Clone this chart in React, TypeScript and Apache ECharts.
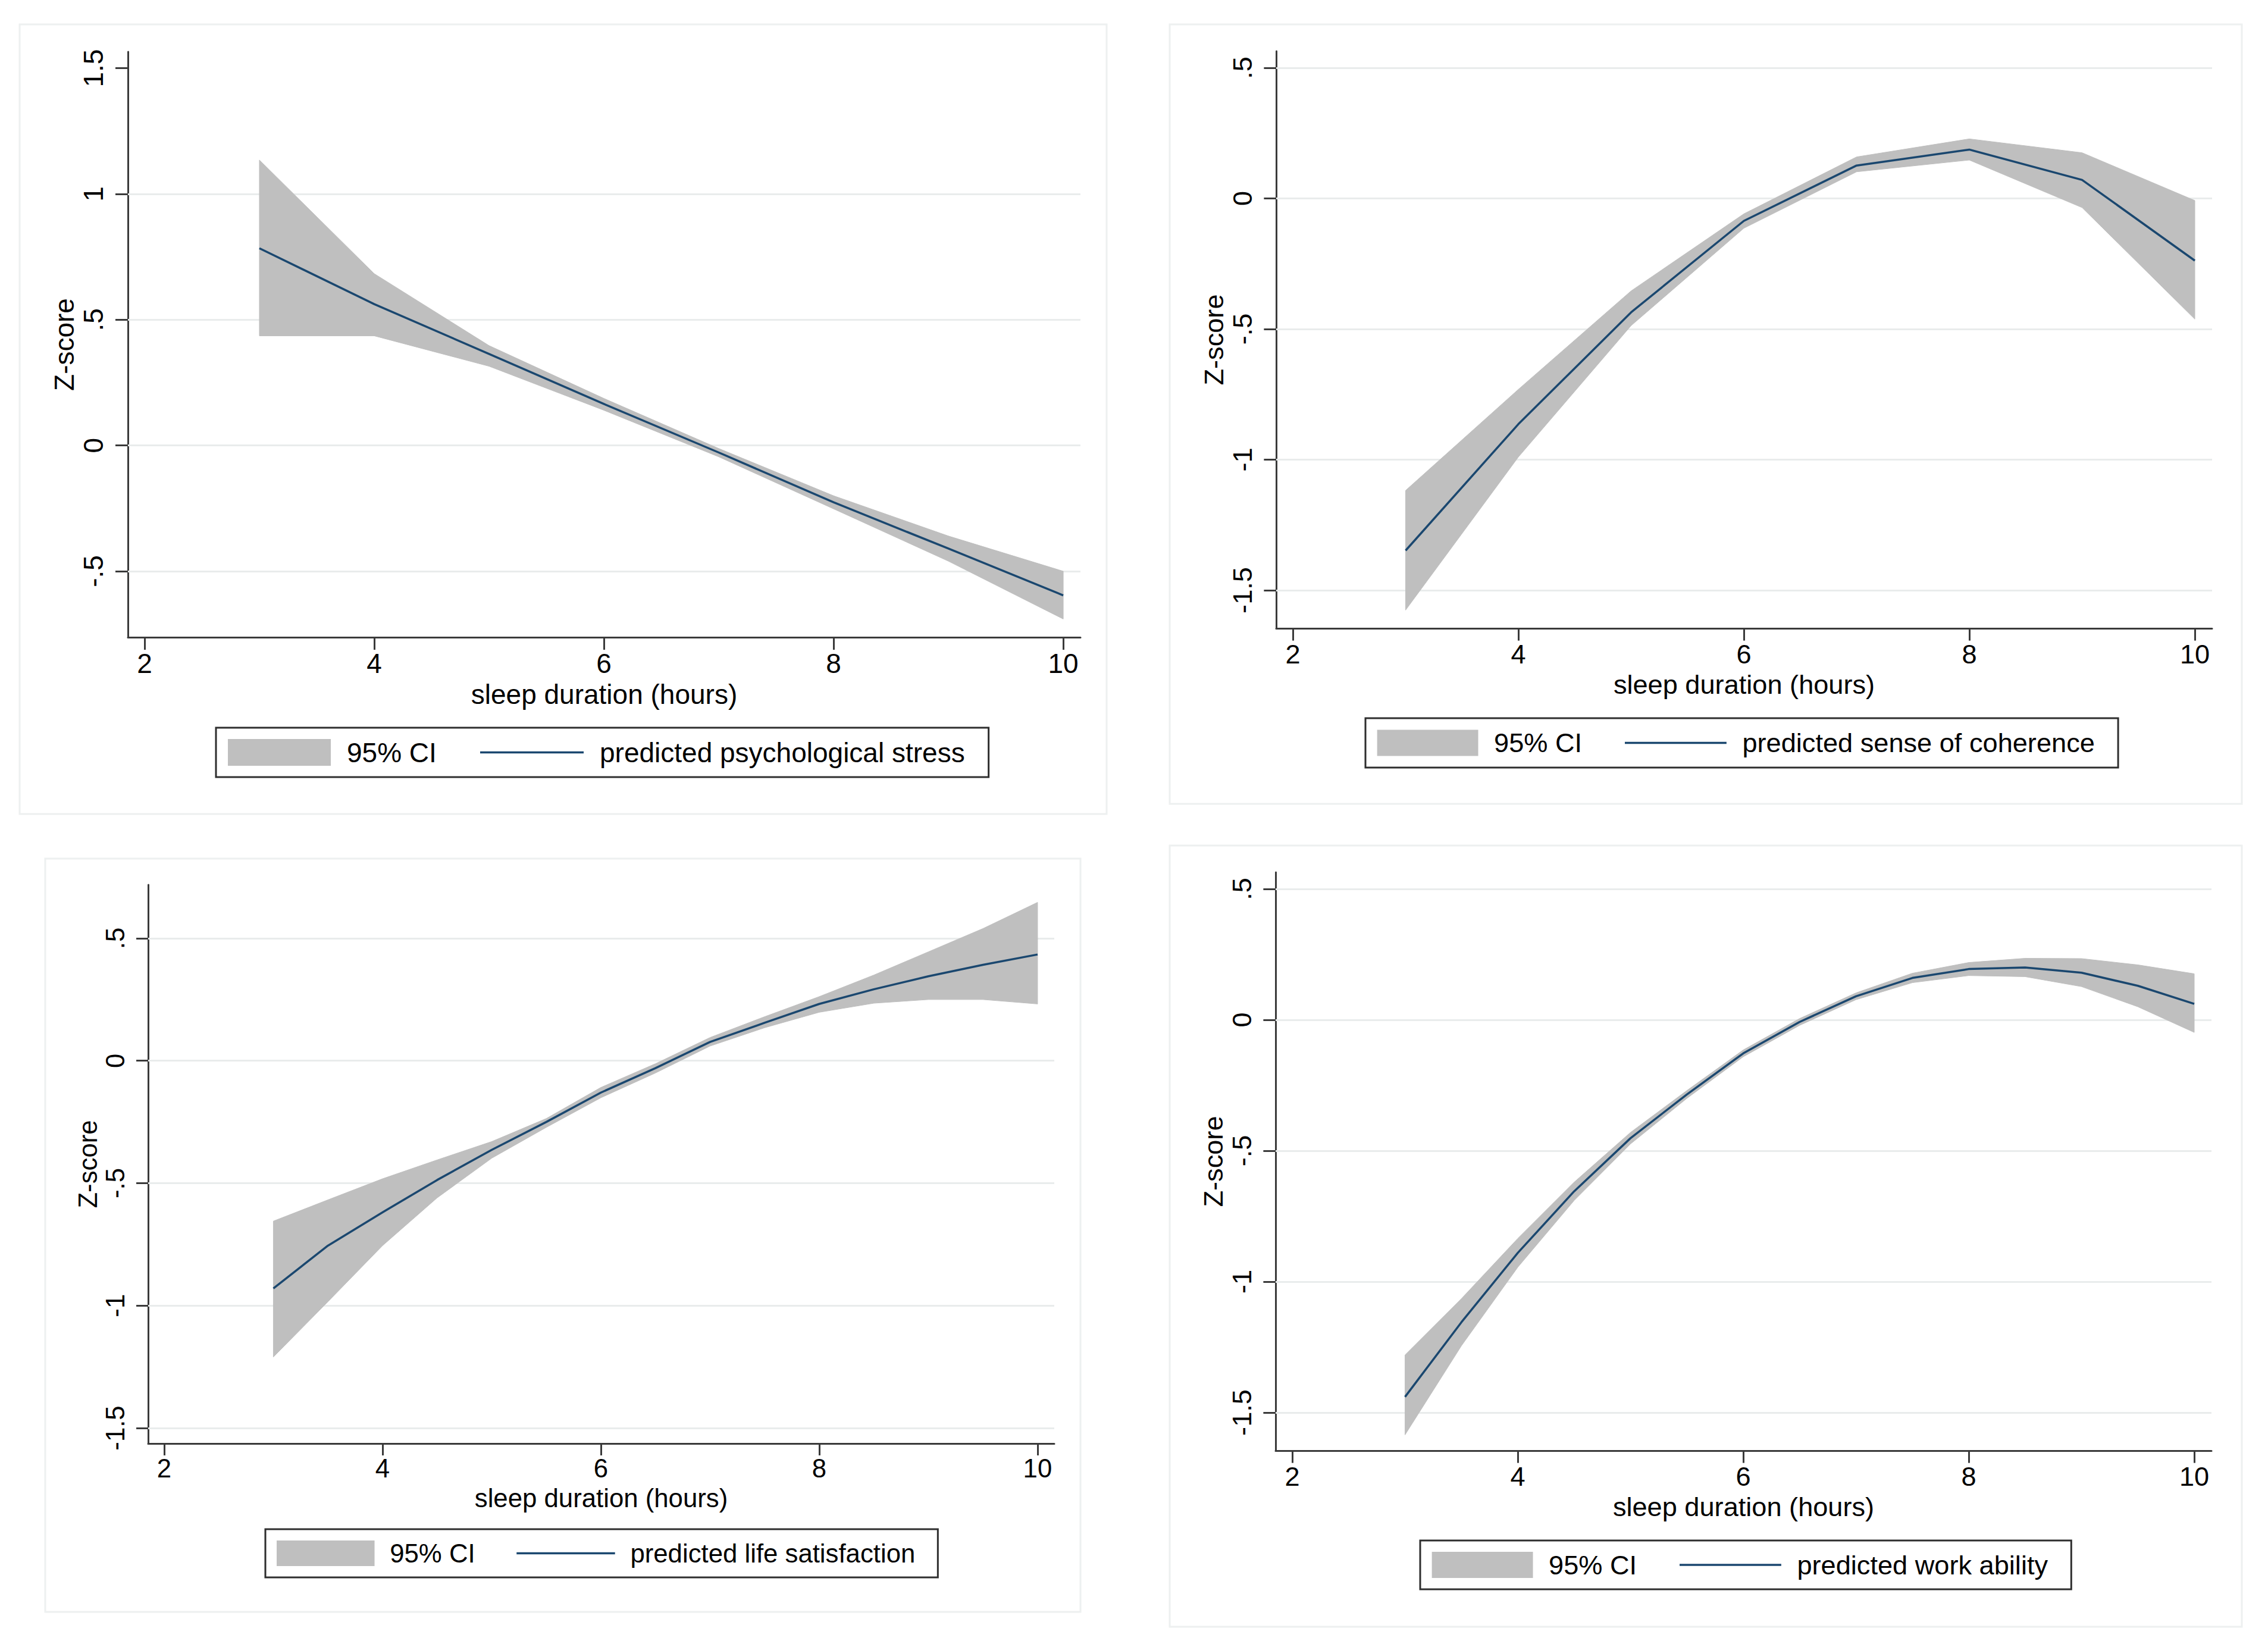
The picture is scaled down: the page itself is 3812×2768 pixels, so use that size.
import React, { useEffect, useRef } from "react";
import * as echarts from "echarts";

// ---------- data ----------
const xTicks = [2, 4, 6, 8, 10];

// psychological stress
const xsStress = [3, 4, 5, 6, 7, 8, 9, 10];
const fitStress = [0.784, 0.562, 0.364, 0.165, -0.028, -0.226, -0.41, -0.596];
const hiStress = [1.135, 0.683, 0.397, 0.187, -0.012, -0.2, -0.36, -0.5];
const loStress = [0.436, 0.436, 0.315, 0.14, -0.045, -0.252, -0.46, -0.69];
const yTicksStress = [-0.5, 0, 0.5, 1, 1.5];
const gridStress = [-0.5, 0, 0.5, 1];

// sense of coherence
const xsCoh = [3, 4, 5, 6, 7, 8, 9, 10];
const fitCoh = [-1.348, -0.864, -0.436, -0.086, 0.126, 0.187, 0.071, -0.238];
const hiCoh = [-1.118, -0.731, -0.354, -0.059, 0.159, 0.228, 0.175, -0.008];
const loCoh = [-1.576, -0.99, -0.487, -0.114, 0.102, 0.147, -0.035, -0.462];
const yTicksCoh = [-1.5, -1, -0.5, 0, 0.5];
const gridCoh = [-1.5, -1, -0.5, 0, 0.5];

// life satisfaction
const xsLife = [3, 3.5, 4, 4.5, 5, 5.5, 6, 6.5, 7, 7.5, 8, 8.5, 9, 9.5, 10];
const fitLife = [-0.93, -0.755, -0.619, -0.487, -0.364, -0.25, -0.13, -0.03, 0.077, 0.155, 0.232, 0.292, 0.345, 0.392, 0.434];
const hiLife = [-0.655, -0.568, -0.482, -0.405, -0.33, -0.236, -0.109, -0.012, 0.095, 0.18, 0.262, 0.35, 0.445, 0.54, 0.647];
const loLife = [-1.21, -0.984, -0.755, -0.56, -0.398, -0.272, -0.151, -0.05, 0.06, 0.135, 0.198, 0.235, 0.25, 0.25, 0.232];
const yTicksLife = [-1.5, -1, -0.5, 0, 0.5];
const gridLife = [-1.5, -1, -0.5, 0, 0.5];

// work ability
const xsWork = [3, 3.5, 4, 4.5, 5, 5.5, 6, 6.5, 7, 7.5, 8, 8.5, 9, 9.5, 10];
const fitWork = [-1.44, -1.155, -0.89, -0.655, -0.452, -0.285, -0.128, -0.008, 0.09, 0.16, 0.194, 0.2, 0.18, 0.13, 0.061];
const hiWork = [-1.28, -1.065, -0.835, -0.62, -0.43, -0.27, -0.115, 0.005, 0.103, 0.178, 0.219, 0.235, 0.234, 0.21, 0.176];
const loWork = [-1.585, -1.245, -0.945, -0.69, -0.474, -0.3, -0.141, -0.021, 0.077, 0.142, 0.169, 0.165, 0.127, 0.05, -0.048];
const yTicksWork = [-1.5, -1, -0.5, 0, 0.5];
const gridWork = [-1.5, -1, -0.5, 0, 0.5];

const xTitle = "sleep duration (hours)";
const yTitle = "Z-score";
const ciLabel = "95% CI";

// ---------- layout / style ----------
const FONT = '"Liberation Sans", Arial, Helvetica, sans-serif';
const AXIS_COLOR = "#3a3a3a";
const GRID_COLOR = "#e9ecec";
const FRAME_COLOR = "#edf0f0";
const BAND_COLOR = "#bfbfbf";
const LINE_COLOR = "#1a476f";

const panels = [
  {
    label: "predicted psychological stress",
    xs: xsStress, fit: fitStress, hi: hiStress, lo: loStress, yTicks: yTicksStress, gridVals: gridStress,
    s: 1,
    grid: { left: 215, top: 87, width: 1601, height: 984 },
    x: [1.855, 10.15], y: [-0.7626, 1.5654],
    legend: { left: 363, top: 1223, bottom: 1306 },
    frame: [33, 41, 1860, 1368],
  },
  {
    label: "predicted sense of coherence",
    xs: xsCoh, fit: fitCoh, hi: hiCoh, lo: loCoh, yTicks: yTicksCoh, gridVals: gridCoh,
    s: 0.982,
    grid: { left: 2145, top: 86, width: 1573, height: 970 },
    x: [1.8522, 10.153], y: [-1.6458, 0.5638],
    legend: { left: 2295, top: 1207, bottom: 1290 },
    frame: [1966, 41, 3768, 1351],
  },
  {
    label: "predicted life satisfaction",
    xs: xsLife, fit: fitLife, hi: hiLife, lo: loLife, yTicks: yTicksLife, gridVals: gridLife,
    s: 0.951,
    grid: { left: 249, top: 1487, width: 1523, height: 939 },
    x: [1.853, 10.153], y: [-1.5632, 0.7187],
    legend: { left: 446, top: 2570, bottom: 2651 },
    frame: [76, 1443, 1816, 2709],
  },
  {
    label: "predicted work ability",
    xs: xsWork, fit: fitWork, hi: hiWork, lo: loWork, yTicks: yTicksWork, gridVals: gridWork,
    s: 0.982,
    grid: { left: 2144, top: 1466, width: 1573, height: 972 },
    x: [1.852, 10.153], y: [-1.6455, 0.5636],
    legend: { left: 2387, top: 2589, bottom: 2671 },
    frame: [1966, 1421, 3768, 2734],
  },
];

function stataFmt(v: number): string {
  const r = Math.round(v * 100) / 100;
  return String(r).replace(/^(-?)0\./, "$1.");
}

let measureCtx: CanvasRenderingContext2D | null = null;
function textWidth(t: string, size: number): number {
  if (!measureCtx) measureCtx = document.createElement("canvas").getContext("2d");
  if (!measureCtx) return t.length * size * 0.5;
  measureCtx.font = `${size}px "Liberation Sans"`;
  return measureCtx.measureText(t).width;
}

function buildOption() {
  const grids: any[] = [];
  const xAxes: any[] = [];
  const yAxes: any[] = [];
  const series: any[] = [];
  const graphics: any[] = [];

  panels.forEach((p, i) => {
    const s = p.s;
    const fs = 46 * s;
    const textStyle = { fontSize: fs, fontFamily: FONT, color: "#000" };
    grids.push({ ...p.grid, containLabel: false });

    xAxes.push({
      gridIndex: i,
      type: "value",
      min: p.x[0],
      max: p.x[1],
      name: xTitle,
      nameLocation: "middle",
      nameGap: 73 * s,
      nameTextStyle: textStyle,
      axisLine: { show: true, onZero: false, lineStyle: { color: AXIS_COLOR, width: 3 } },
      axisTick: { show: true, length: 21 * s, customValues: xTicks, lineStyle: { color: AXIS_COLOR, width: 3 } },
      axisLabel: { show: true, customValues: xTicks, margin: 21 * s, formatter: (v: number) => stataFmt(v), ...textStyle },
      splitLine: { show: false },
    });

    yAxes.push({
      gridIndex: i,
      type: "value",
      min: p.y[0],
      max: p.y[1],
      name: yTitle,
      nameLocation: "middle",
      nameGap: 84 * s,
      nameRotate: 90,
      nameTextStyle: textStyle,
      axisLine: { show: true, onZero: false, lineStyle: { color: AXIS_COLOR, width: 3 } },
      axisTick: { show: true, length: 21 * s, customValues: p.yTicks, lineStyle: { color: AXIS_COLOR, width: 3 } },
      axisLabel: { show: true, customValues: p.yTicks, rotate: 90, margin: 35 * s, formatter: (v: number) => stataFmt(v), ...textStyle },
      splitLine: { show: false },
    });

    // confidence band drawn as one polygon through the axis scales
    const bandData = p.xs.map((x, k) => [x, p.lo[k], p.hi[k]]);
    series.push({
      type: "custom",
      name: "band" + i,
      xAxisIndex: i,
      yAxisIndex: i,
      data: bandData,
      encode: { x: 0, y: [1, 2] },
      silent: true,
      z: 2,
      renderItem: (params: any, api: any) => {
        if (params.dataIndex !== 0) return null;
        const upper = bandData.map((d) => api.coord([d[0], d[2]]));
        const lower = bandData.map((d) => api.coord([d[0], d[1]])).reverse();
        return {
          type: "polygon",
          shape: { points: upper.concat(lower) },
          style: { fill: BAND_COLOR, stroke: BAND_COLOR, lineWidth: 1 },
          silent: true,
        };
      },
    });

    series.push({
      type: "line",
      name: "fit" + i,
      xAxisIndex: i,
      yAxisIndex: i,
      data: p.xs.map((x, k) => [x, p.fit[k]]),
      symbol: "none",
      silent: true,
      lineStyle: { color: LINE_COLOR, width: 3.5 },
      z: 3,
      markLine: {
        silent: true,
        symbol: "none",
        z: 1,
        animation: false,
        label: { show: false },
        lineStyle: { color: GRID_COLOR, width: 3, type: "solid" },
        data: p.gridVals.map((v) => ({ yAxis: v })),
      },
    });

    // frame
    const [fx0, fy0, fx1, fy1] = p.frame;
    graphics.push({
      type: "rect",
      silent: true,
      z: -1,
      shape: { x: fx0, y: fy0, width: fx1 - fx0, height: fy1 - fy0 },
      style: { fill: "none", stroke: FRAME_COLOR, lineWidth: 3 },
    });

    // legend
    const L = p.legend.left;
    const top = p.legend.top;
    const bottom = p.legend.bottom;
    const cy = (top + bottom) / 2;
    const t2x = L + 645 * s;
    const t2w = textWidth(p.label, fs);
    const right = t2x + t2w + 40 * s;
    graphics.push({
      type: "rect",
      silent: true,
      shape: { x: L, y: top, width: right - L, height: bottom - top },
      style: { fill: "#fff", stroke: "#2e2e2e", lineWidth: 3 },
      z: 10,
    });
    graphics.push({
      type: "rect",
      silent: true,
      shape: { x: L + 20 * s, y: cy - 22.5 * s, width: 173 * s, height: 45 * s },
      style: { fill: BAND_COLOR },
      z: 11,
    });
    graphics.push({
      type: "text",
      silent: true,
      x: L + 220 * s,
      y: cy,
      style: { text: ciLabel, fill: "#000", fontSize: fs, fontFamily: FONT, verticalAlign: "middle", align: "left" },
      z: 11,
    });
    graphics.push({
      type: "line",
      silent: true,
      shape: { x1: L + 444 * s, y1: cy, x2: L + 618 * s, y2: cy },
      style: { stroke: LINE_COLOR, lineWidth: 3.5 },
      z: 11,
    });
    graphics.push({
      type: "text",
      silent: true,
      x: t2x,
      y: cy,
      style: { text: p.label, fill: "#000", fontSize: fs, fontFamily: FONT, verticalAlign: "middle", align: "left" },
      z: 11,
    });
  });

  return {
    animation: false,
    backgroundColor: "#ffffff",
    textStyle: { fontFamily: FONT },
    grid: grids,
    xAxis: xAxes,
    yAxis: yAxes,
    series,
    graphic: graphics,
  };
}

export default function App() {
  const ref = useRef<HTMLDivElement>(null);
  useEffect(() => {
    if (!ref.current) return;
    const chart = echarts.init(ref.current, null, { renderer: "svg" });
    chart.setOption(buildOption() as any);
    return () => chart.dispose();
  }, []);
  return (
    <div
      ref={ref}
      style={{ position: "absolute", left: 0, top: 0, width: "3812px", height: "2768px", background: "#fff" }}
    />
  );
}
